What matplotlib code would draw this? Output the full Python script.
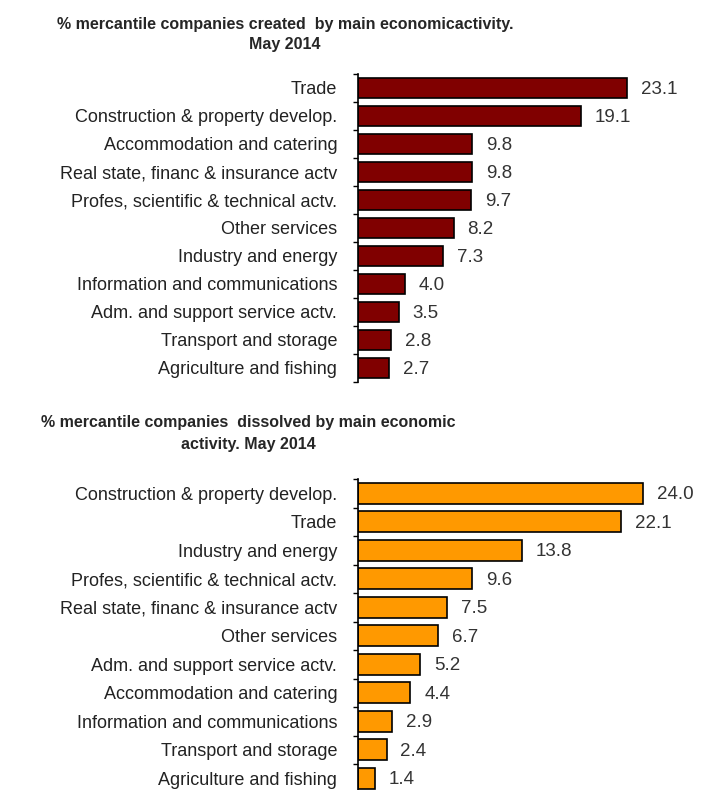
import numpy as np
import matplotlib.pyplot as plt
from matplotlib import font_manager

# data
created_cats = ["Trade", "Construction & property develop.", "Accommodation and catering",
                "Real state, financ & insurance actv", "Profes, scientific & technical actv.",
                "Other services", "Industry and energy", "Information and communications",
                "Adm. and support service actv.", "Transport and storage", "Agriculture and fishing"]
created_vals = [23.1, 19.1, 9.8, 9.8, 9.7, 8.2, 7.3, 4.0, 3.5, 2.8, 2.7]

dissolved_cats = ["Construction & property develop.", "Trade", "Industry and energy",
                  "Profes, scientific & technical actv.", "Real state, financ & insurance actv",
                  "Other services", "Adm. and support service actv.", "Accommodation and catering",
                  "Information and communications", "Transport and storage", "Agriculture and fishing"]
dissolved_vals = [24.0, 22.1, 13.8, 9.6, 7.5, 6.7, 5.2, 4.4, 2.9, 2.4, 1.4]

names = {f.name for f in font_manager.fontManager.ttflist}
title_font = 'Liberation Sans Narrow' if 'Liberation Sans Narrow' in names else 'Liberation Sans'
plt.rcParams['font.family'] = ['Liberation Sans', 'DejaVu Sans']

W, H = 701, 790
fig = plt.figure(figsize=(W / 100, H / 100), dpi=100)


def draw(ax, cats, vals, color, xmax):
    y = np.arange(len(cats))
    ax.barh(y, vals, height=0.74, color=color, edgecolor='black', linewidth=1.2)
    ax.set_ylim(len(cats) - 0.5, -0.5)
    ax.set_xlim(0, xmax)
    ax.set_yticks(y)
    ax.set_yticklabels(cats, fontsize=13, color='#222222')
    ax.tick_params(axis='y', which='major', length=0, pad=15)
    ax.set_yticks(np.arange(len(cats) + 1) - 0.5, minor=True)
    ax.tick_params(axis='y', which='minor', length=3.5, width=1, direction='out')
    ax.set_xticks([])
    for s in ['top', 'right', 'bottom']:
        ax.spines[s].set_visible(False)
    ax.spines['left'].set_linewidth(1.2)
    for yi, v in zip(y, vals):
        ax.annotate(f"{v:.1f}", (v, yi), xytext=(10, -1), textcoords='offset points',
                    va='center', ha='left', fontsize=13.5, color='#333333')


ax1 = fig.add_axes([358 / W, 1 - 382 / H, 1 - 358 / W, 308 / H])
draw(ax1, created_cats, created_vals, '#800000', (W - 358) / 11.66)

ax2 = fig.add_axes([358 / W, 1 - 792.5 / H, 1 - 358 / W, 313.5 / H])
draw(ax2, dissolved_cats, dissolved_vals, '#FF9900', (W - 358) / 11.89)

tkw = dict(ha='center', va='center', fontsize=11.5, fontweight='bold', family=title_font, color='#262626')
fig.text(285 / W, 1 - 25 / H, "% mercantile companies created  by main economicactivity.", **tkw)
fig.text(285 / W, 1 - 45 / H, "May 2014", **tkw)
fig.text(248 / W, 1 - 423 / H, "% mercantile companies  dissolved by main economic", **tkw)
fig.text(248 / W, 1 - 445 / H, "activity. May 2014", **tkw)

fig.savefig('out.png', dpi=100)
